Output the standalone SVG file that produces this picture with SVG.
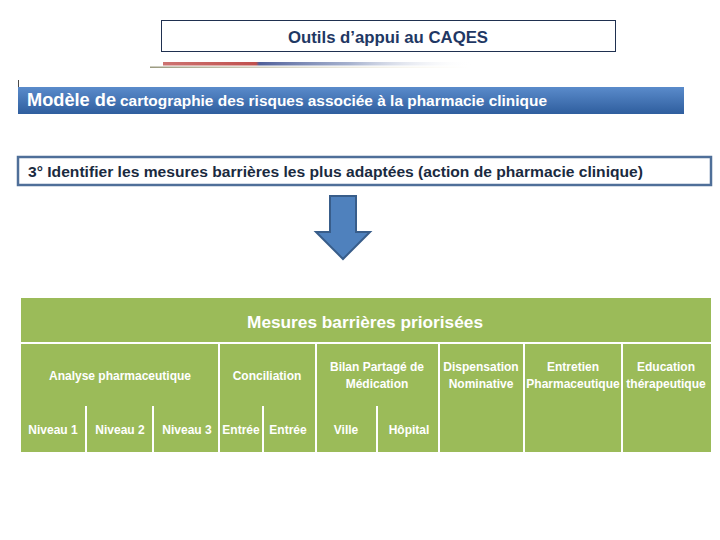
<svg xmlns="http://www.w3.org/2000/svg" width="720" height="540" viewBox="0 0 720 540">
<style>
.t{font-family:"Liberation Sans","Open Sans",Arial,sans-serif}
.cell{fill:#9bbb59}
.sep{stroke:#ffffff;stroke-width:2}
.ct{font-family:"Liberation Sans Narrow","Liberation Sans",Arial,sans-serif;font-size:12px;fill:#ffffff;text-anchor:middle;font-weight:bold}
</style>
<defs>
<linearGradient id="deco" x1="0" y1="0" x2="1" y2="0">
<stop offset="0" stop-color="#c0504d" stop-opacity="0.8"/>
<stop offset="0.3" stop-color="#c0504d"/>
<stop offset="0.31" stop-color="#4f5f99"/>
<stop offset="0.6" stop-color="#7f8fb8" stop-opacity="0.7"/>
<stop offset="1" stop-color="#ffffff" stop-opacity="0"/>
</linearGradient>
<linearGradient id="deco2" x1="0" y1="0" x2="1" y2="0">
<stop offset="0" stop-color="#9a9a80"/>
<stop offset="1" stop-color="#e8e0c0" stop-opacity="0"/>
</linearGradient>
<linearGradient id="banner" x1="0" y1="0" x2="0" y2="1">
<stop offset="0" stop-color="#5a8bcb"/>
<stop offset="1" stop-color="#2f5e9e"/>
</linearGradient>
</defs>

<g id="title">
<rect x="161.5" y="20.5" width="454" height="31" fill="#ffffff" stroke="#1f3050" stroke-width="1"/>
<text class="t" x="388" y="43" font-size="16" font-weight="bold" fill="#1f3864" text-anchor="middle" textLength="200" lengthAdjust="spacingAndGlyphs">Outils d’appui au CAQES</text>
</g>
<g id="deco-line">
<rect x="163" y="62" width="310" height="3.5" fill="url(#deco)"/>
<rect x="150" y="66.5" width="320" height="1.5" fill="url(#deco2)"/>
</g>

<g id="banner-node">
<line x1="18.5" y1="80" x2="18.5" y2="87" stroke="#4a4a4a" stroke-width="1"/>
<rect x="18" y="87" width="666" height="27" fill="url(#banner)"/>
<text class="t" x="27" y="106" fill="#ffffff" font-weight="bold" font-size="18" textLength="89" lengthAdjust="spacingAndGlyphs">Modèle de</text>
<text class="t" x="120" y="106" fill="#ffffff" font-weight="bold" font-size="14.5" textLength="427" lengthAdjust="spacingAndGlyphs">cartographie des risques associée à la pharmacie clinique</text>
</g>

<g id="step3">
<rect x="18" y="157" width="693" height="28" fill="#ffffff" stroke="#4f6f99" stroke-width="2.5"/>
<text class="t" x="28" y="177" font-size="14.5" font-weight="bold" fill="#1a2a40" textLength="615" lengthAdjust="spacingAndGlyphs">3° Identifier les mesures barrières les plus adaptées (action de pharmacie clinique)</text>
</g>

<g id="arrow">
<path d="M330,196 H356 V232 H370 L343,259 L316,232 H330 Z" fill="#4f81bd" stroke="#385d8a" stroke-width="2" stroke-linejoin="miter"/>
</g>

<g id="table">
<rect class="cell" x="21" y="298" width="690" height="154"/>
<line class="sep" x1="21" y1="343" x2="711" y2="343"/>
<line class="sep" x1="219" y1="343" x2="219" y2="452"/>
<line class="sep" x1="316" y1="343" x2="316" y2="452"/>
<line class="sep" x1="439" y1="343" x2="439" y2="452"/>
<line class="sep" x1="524" y1="343" x2="524" y2="452"/>
<line class="sep" x1="622" y1="343" x2="622" y2="452"/>
<line class="sep" x1="86" y1="406" x2="86" y2="452"/>
<line class="sep" x1="153" y1="406" x2="153" y2="452"/>
<line class="sep" x1="263" y1="406" x2="263" y2="452"/>
<line class="sep" x1="377" y1="406" x2="377" y2="452"/>
<text class="t" x="365" y="328" font-size="17" font-weight="bold" fill="#ffffff" text-anchor="middle" textLength="236" lengthAdjust="spacingAndGlyphs">Mesures barrières priorisées</text>
<text class="ct" x="120" y="380">Analyse pharmaceutique</text>
<text class="ct" x="267" y="380">Conciliation</text>
<text class="ct" x="377" y="371">Bilan Partagé de</text>
<text class="ct" x="377" y="388">Médication</text>
<text class="ct" x="481" y="371">Dispensation</text>
<text class="ct" x="481" y="388">Nominative</text>
<text class="ct" x="573" y="371">Entretien</text>
<text class="ct" x="573" y="388">Pharmaceutique</text>
<text class="ct" x="666" y="371">Education</text>
<text class="ct" x="666" y="388">thérapeutique</text>
<text class="ct" x="53" y="434">Niveau 1</text>
<text class="ct" x="120" y="434">Niveau 2</text>
<text class="ct" x="187" y="434">Niveau 3</text>
<text class="ct" x="241" y="434">Entrée</text>
<text class="ct" x="288" y="434">Entrée</text>
<text class="ct" x="346" y="434">Ville</text>
<text class="ct" x="409" y="434">Hôpital</text>
</g>
</svg>
